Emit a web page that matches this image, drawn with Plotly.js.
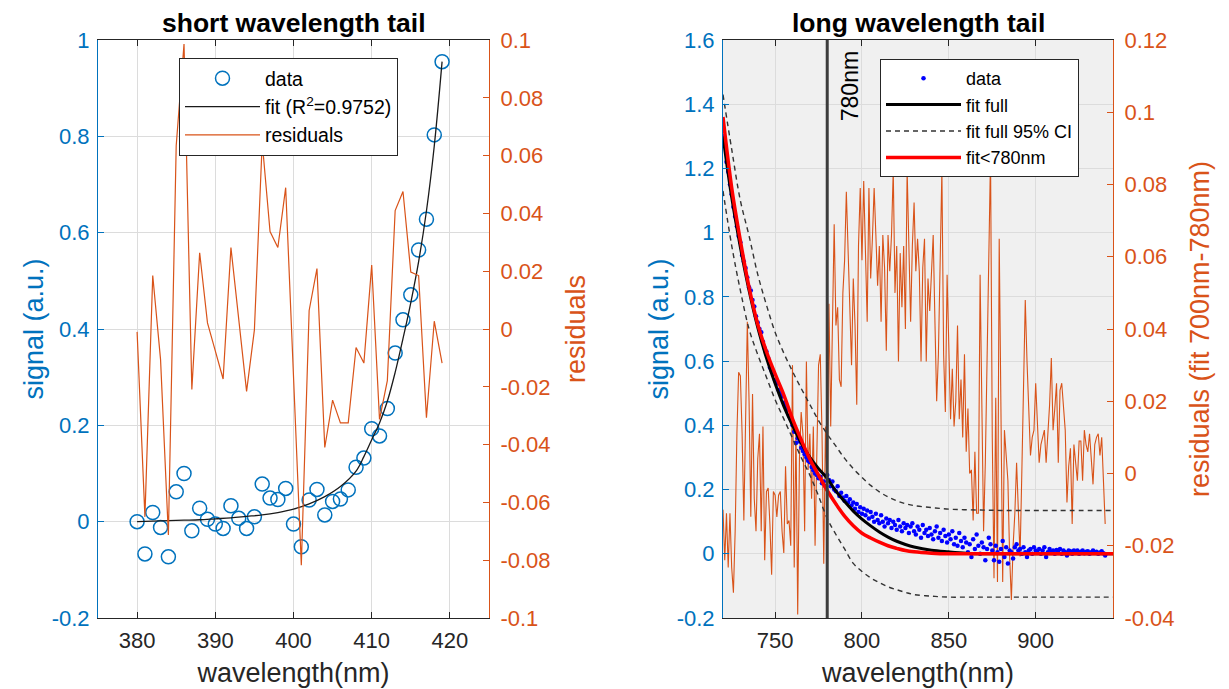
<!DOCTYPE html>
<html>
<head>
<meta charset="utf-8">
<script src="https://cdn.plot.ly/plotly-3.0.1.min.js"></script>
<style>html,body{margin:0;padding:0;background:#fff;}#chart{width:1229px;height:689px;}</style>
</head>
<body>
<div id="chart"></div>
<script>
// ---------- short wavelength tail ----------
const shortStart = 380;
const shortSignal = [0.000,-0.067,0.019,-0.012,-0.073,0.062,0.100,-0.019,0.028,0.005,
  -0.005,-0.014,0.033,0.007,-0.014,0.010,0.078,0.049,0.046,0.069,
  -0.005,-0.052,0.045,0.067,0.014,0.042,0.047,0.066,0.113,0.132,
  0.193,0.178,0.235,0.350,0.419,0.471,0.564,0.628,0.803,0.955];
const shortResid = [-0.001,-0.065,0.0185,-0.0106,-0.0713,0.0634,0.0986,-0.0209,0.0264,0.0021,
  -0.0076,-0.0173,0.0282,0.0033,-0.0216,-0.0003,0.0646,0.0337,0.0282,0.0489,
  -0.015,-0.0817,0.0064,0.0209,-0.041,-0.0246,-0.0325,-0.0325,-0.0064,-0.0118,
  0.0221,-0.0313,-0.0179,0.041,0.0476,0.0197,0.0185,-0.0307,0.0027,-0.0118];
const shortFitX = [380,382,384,386,388,390,392,394,396,398,400,402,404,406,408,409,410,411,412,413,414,415,416,417,418,419];
const shortFitY = [0.000,0.001,0.002,0.003,0.004,0.006,0.008,0.011,0.014,0.019,0.026,0.037,0.052,0.073,0.105,0.135,0.170,0.205,0.250,0.310,0.380,0.455,0.540,0.645,0.780,0.955];

// ---------- long wavelength tail ----------
const longStart = 720;
const longSignal = [1.30,1.27,1.22,1.19,1.15,1.12,1.08,1.05,1.02,0.99,
  0.97,0.93,0.91,0.89,0.86,0.83,0.82,0.79,0.77,0.74,
  0.72,0.70,0.69,0.66,0.64,0.63,0.61,0.58,0.57,0.56,
  0.54,0.53,0.51,0.50,0.49,0.47,0.46,0.45,0.43,0.42,
  0.40,0.38,0.345,0.36,0.35,0.33,0.32,0.31,0.30,0.29,
  0.285,0.27,0.26,0.25,0.245,0.235,0.24,0.22,0.225,0.21,
  0.245,0.23,0.21,0.225,0.20,0.195,0.21,0.18,0.19,0.175,
  0.165,0.18,0.16,0.17,0.15,0.16,0.14,0.155,0.13,0.145,
  0.125,0.14,0.12,0.135,0.11,0.13,0.115,0.10,0.125,0.105,
  0.095,0.12,0.10,0.085,0.11,0.095,0.105,0.08,0.10,0.09,
  0.075,0.105,0.085,0.07,0.095,0.08,0.09,0.065,0.085,0.095,
  0.07,0.06,0.085,0.075,0.05,0.09,0.065,0.075,0.055,0.08,
  0.06,0.045,0.07,0.085,0.05,0.065,0.04,0.075,0.055,0.035,
  0.06,0.045,0.07,0.03,0.05,0.025,0.065,0.04,0.02,0.05,
  0.035,0.005,0.03,-0.01,0.045,0.015,0.06,0.025,0.0,0.035,
  0.02,-0.02,0.015,0.05,0.03,0.01,-0.02,0.025,0.005,-0.025,
  0.015,0.04,-0.01,0.02,-0.03,0.01,0.005,-0.015,0.02,0.03,
  0.01,0.015,0.0,0.02,0.005,-0.01,0.01,0.015,0.0,0.02,
  0.01,0.005,0.015,0.0,0.01,0.02,-0.01,0.005,0.015,0.005,
  0.01,0.0,0.012,0.005,0.015,0.0,0.01,0.005,-0.005,0.01,
  0.008,0.0,0.01,0.004,0.01,0.0,0.006,0.01,0.002,0.006,
  0.008,0.0,0.005,0.01,0.003,0.006,0.0,0.004,0.008,0.002,
  -0.005];
const longResid = [-0.010,-0.024,-0.011,-0.026,-0.011,-0.026,-0.033,-0.016,0.011,0.028,
  0.027,0.011,-0.013,0.011,0.042,0.020,-0.012,0.022,-0.007,-0.016,
  0.004,0.011,-0.016,0.013,-0.024,-0.005,-0.004,-0.014,-0.028,-0.005,
  -0.006,-0.012,-0.006,-0.005,-0.016,-0.022,0.002,-0.014,-0.013,-0.020,
  0.030,-0.026,0.013,-0.039,0.004,0.017,0.011,-0.016,0.031,0.001,
  0.011,-0.007,0.013,-0.020,0.006,0.030,0.033,0.011,-0.025,0.013,
  -0.007,0.047,0.013,0.046,0.069,0.041,0.046,0.026,0.024,0.050,
  0.059,0.078,0.063,0.042,0.030,0.054,0.041,0.019,0.063,0.079,
  0.059,0.081,0.061,0.042,0.079,0.054,0.065,0.079,0.066,0.052,
  0.063,0.042,0.066,0.057,0.034,0.066,0.056,0.066,0.084,0.050,
  0.063,0.031,0.061,0.046,0.063,0.040,0.084,0.059,0.042,0.063,
  0.075,0.056,0.065,0.056,0.031,0.057,0.065,0.031,0.054,0.045,
  0.055,0.066,0.042,0.020,0.033,0.056,0.084,0.033,0.017,0.055,
  0.030,0.015,0.029,0.013,0.020,0.041,0.015,0.026,0.010,0.033,
  0.006,0.018,0.000,0.001,-0.013,0.006,-0.011,-0.011,0.055,0.020,
  -0.016,0.003,0.035,0.060,0.088,0.010,-0.029,0.021,-0.030,0.065,
  0.010,-0.030,0.012,0.005,-0.002,-0.023,-0.035,-0.020,-0.011,0.003,
  -0.010,-0.023,0.000,0.021,0.048,0.031,0.015,0.005,0.010,0.012,
  0.025,0.015,0.003,0.008,0.010,0.012,0.003,0.010,0.019,0.032,
  0.012,0.018,0.025,0.003,0.023,0.025,0.018,0.012,-0.008,0.002,
  0.007,-0.014,0.008,0.003,-0.002,0.009,0.009,-0.002,0.012,0.008,
  0.006,0.011,0.004,-0.003,0.008,0.010,0.011,0.005,0.010,-0.005,
  -0.014];
const fitX = [720,725,730,735,740,745,750,755,760,765,770,775,780,785,790,795,800,805,810,815,820,825,830,840,850,860,870,880,900,920,945];
const fitFull = [1.30,1.11,0.955,0.82,0.705,0.61,0.53,0.46,0.40,0.345,0.30,0.265,0.235,0.195,0.163,0.133,0.108,0.087,0.068,0.052,0.039,0.029,0.021,0.011,0.006,0.002,0.0,0.0,0.0,0.0,0.0];
const fitUpper = [1.43,1.26,1.10,0.99,0.87,0.775,0.69,0.625,0.568,0.515,0.465,0.415,0.373,0.335,0.297,0.265,0.238,0.213,0.193,0.177,0.165,0.156,0.150,0.144,0.139,0.137,0.136,0.135,0.135,0.135,0.135];
const fitLower = [1.13,0.96,0.82,0.70,0.62,0.55,0.48,0.42,0.36,0.30,0.245,0.18,0.11,0.06,0.015,-0.03,-0.055,-0.075,-0.09,-0.103,-0.112,-0.12,-0.127,-0.132,-0.135,-0.135,-0.135,-0.135,-0.135,-0.135,-0.135];
const fitShort = [1.36,1.14,0.975,0.83,0.715,0.63,0.56,0.495,0.42,0.355,0.295,0.245,0.197,0.155,0.117,0.087,0.064,0.049,0.036,0.025,0.017,0.010,0.006,0.002,0.0,0.0,0.0,0.0,0.0,0.0,0.0];
const cutoff = 780;

// tick labels
const sxTicks = [380,390,400,410,420];
const sy1Ticks = [-0.2,0,0.2,0.4,0.6,0.8,1];
const sy1Text = ['-0.2','0','0.2','0.4','0.6','0.8','1'];
const sy2Ticks = [-0.1,-0.08,-0.06,-0.04,-0.02,0,0.02,0.04,0.06,0.08,0.1];
const sy2Text = ['-0.1','-0.08','-0.06','-0.04','-0.02','0','0.02','0.04','0.06','0.08','0.1'];
const lxTicks = [750,800,850,900];
const ly1Ticks = [-0.2,0,0.2,0.4,0.6,0.8,1,1.2,1.4,1.6];
const ly1Text = ['-0.2','0','0.2','0.4','0.6','0.8','1','1.2','1.4','1.6'];
const ly2Ticks = [-0.04,-0.02,0,0.02,0.04,0.06,0.08,0.1,0.12];
const ly2Text = ['-0.04','-0.02','0','0.02','0.04','0.06','0.08','0.1','0.12'];

const shortX = shortSignal.map((_, i) => shortStart + i);
const longX = longSignal.map((_, i) => longStart + i);

const BLUE = '#0072BD', ORANGE = '#D95319', DARK = '#262626', GRID = '#dcdcdc';
const FONT = 'Liberation Sans, Arial, Helvetica, sans-serif';

const traces = [
  {x: shortX, y: shortSignal, type: 'scatter', mode: 'markers', name: 'data',
   marker: {symbol: 'circle-open', size: 14, color: BLUE, line: {width: 1.5, color: BLUE}},
   xaxis: 'x', yaxis: 'y', legend: 'legend'},
  {x: shortFitX, y: shortFitY, type: 'scatter', mode: 'lines', name: 'fit (R<sup>2</sup>=0.9752)',
   line: {color: '#1a1a1a', width: 1.3, shape: 'spline'}, xaxis: 'x', yaxis: 'y', legend: 'legend'},
  {x: shortX, y: shortResid, type: 'scatter', mode: 'lines', name: 'residuals',
   line: {color: ORANGE, width: 1.2}, xaxis: 'x', yaxis: 'y2', legend: 'legend'},

  {x: longX, y: longResid, type: 'scatter', mode: 'lines', name: 'residuals',
   line: {color: ORANGE, width: 1.1}, xaxis: 'x2', yaxis: 'y3', showlegend: false},
  {x: longX, y: longSignal, type: 'scatter', mode: 'markers', name: 'data',
   marker: {size: 4.5, color: '#0000FF'}, xaxis: 'x2', yaxis: 'y4', legend: 'legend2'},
  {x: fitX, y: fitFull, type: 'scatter', mode: 'lines', name: 'fit full',
   line: {color: '#000000', width: 3, shape: 'spline'}, xaxis: 'x2', yaxis: 'y4', legend: 'legend2'},
  {x: fitX, y: fitUpper, type: 'scatter', mode: 'lines', name: 'fit full 95% CI',
   line: {color: '#333333', width: 1.4, dash: '5px,4px', shape: 'spline'}, xaxis: 'x2', yaxis: 'y4', legend: 'legend2'},
  {x: fitX, y: fitLower, type: 'scatter', mode: 'lines', name: 'fit full 95% CI lower',
   line: {color: '#333333', width: 1.4, dash: '5px,4px', shape: 'spline'}, xaxis: 'x2', yaxis: 'y4', showlegend: false},
  {x: fitX, y: fitShort, type: 'scatter', mode: 'lines', name: 'fit&lt;780nm',
   line: {color: '#FF0000', width: 3.5, shape: 'spline'}, xaxis: 'x2', yaxis: 'y4', legend: 'legend2'}
];

const W = 1229, H = 689;
const yDom = [(H - 618) / H, (H - 40) / H];
const TICK = 22, LABEL = 27;
const axBase = {ticks: 'inside', ticklen: 6, showline: true, zeroline: false, linewidth: 1};

const layout = {
  width: W, height: H, margin: {l: 0, r: 0, t: 0, b: 0},
  paper_bgcolor: '#ffffff', plot_bgcolor: '#ffffff',
  font: {family: FONT, color: DARK},
  xaxis: Object.assign({}, axBase, {domain: [98 / W, 489 / W], range: [375, 425], anchor: 'y',
    tickvals: sxTicks, linecolor: DARK, tickcolor: DARK, mirror: 'ticks', showgrid: true, gridcolor: GRID,
    tickfont: {size: TICK, color: DARK, family: FONT}, ticklabelstandoff: 3,
    title: {text: 'wavelength(nm)', font: {size: LABEL, color: DARK}, standoff: 10}}),
  yaxis: Object.assign({}, axBase, {domain: yDom, range: [-0.2, 1], anchor: 'x',
    tickvals: sy1Ticks, ticktext: sy1Text, linecolor: BLUE, tickcolor: BLUE, showgrid: true, gridcolor: GRID,
    tickfont: {size: TICK, color: BLUE, family: FONT}, ticklabelstandoff: 3,
    title: {text: 'signal (a.u.)', font: {size: LABEL, color: BLUE}, standoff: 0}}),
  yaxis2: Object.assign({}, axBase, {overlaying: 'y', side: 'right', range: [-0.1, 0.1], anchor: 'x',
    tickvals: sy2Ticks, ticktext: sy2Text, linecolor: ORANGE, tickcolor: ORANGE, showgrid: false,
    tickfont: {size: TICK, color: ORANGE, family: FONT}, ticklabelstandoff: 6,
    title: {text: 'residuals', font: {size: LABEL, color: ORANGE}, standoff: 16}}),
  xaxis2: Object.assign({}, axBase, {domain: [723 / W, 1113 / W], range: [720, 944.5], anchor: 'y3',
    tickvals: lxTicks, linecolor: DARK, tickcolor: DARK, mirror: 'ticks', showgrid: true, gridcolor: GRID,
    tickfont: {size: TICK, color: DARK, family: FONT}, ticklabelstandoff: 3,
    title: {text: 'wavelength(nm)', font: {size: LABEL, color: DARK}, standoff: 10}}),
  yaxis3: Object.assign({}, axBase, {domain: yDom, side: 'right', range: [-0.04, 0.12], anchor: 'x2',
    tickvals: ly2Ticks, ticktext: ly2Text, linecolor: ORANGE, tickcolor: ORANGE, showgrid: false,
    tickfont: {size: TICK, color: ORANGE, family: FONT}, ticklabelstandoff: 6,
    title: {text: 'residuals (fit 700nm-780nm)', font: {size: LABEL, color: ORANGE}, standoff: 16}}),
  yaxis4: Object.assign({}, axBase, {overlaying: 'y3', side: 'left', range: [-0.2, 1.6], anchor: 'x2',
    tickvals: ly1Ticks, ticktext: ly1Text, linecolor: BLUE, tickcolor: BLUE, showgrid: true, gridcolor: GRID,
    tickfont: {size: TICK, color: BLUE, family: FONT}, ticklabelstandoff: 3,
    title: {text: 'signal (a.u.)', font: {size: LABEL, color: BLUE}, standoff: 0}}),
  legend: {x: 179 / W, y: (H - 58) / H, xanchor: 'left', yanchor: 'top', bgcolor: '#ffffff',
    bordercolor: DARK, borderwidth: 1, font: {size: 19.5, family: FONT, color: '#000'}, itemwidth: 75, tracegroupgap: 0},
  legend2: {x: 880 / W, y: (H - 59) / H, xanchor: 'left', yanchor: 'top', bgcolor: '#ffffff',
    bordercolor: DARK, borderwidth: 1, font: {size: 18, family: FONT, color: '#000'}, itemwidth: 75, tracegroupgap: 0},
  shapes: [
    {type: 'rect', xref: 'x2 domain', yref: 'y3 domain', x0: 0, x1: 1, y0: 0, y1: 1,
     fillcolor: '#f0f0f0', line: {width: 0}, layer: 'below'},
    {type: 'line', xref: 'x2', yref: 'y3 domain', x0: cutoff, x1: cutoff, y0: 0, y1: 1,
     line: {color: '#3c3c3c', width: 3}, layer: 'above'}
  ],
  annotations: [
    {text: 'short wavelength tail', xref: 'paper', yref: 'paper', x: 293.5 / W, y: (H - 23) / H,
     xanchor: 'center', yanchor: 'middle', showarrow: false, font: {size: 26.5, color: '#000', weight: 'bold', family: FONT}},
    {text: 'long wavelength tail', xref: 'paper', yref: 'paper', x: 918 / W, y: (H - 23) / H,
     xanchor: 'center', yanchor: 'middle', showarrow: false, font: {size: 26.5, color: '#000', weight: 'bold', family: FONT}},
    {text: cutoff + 'nm', xref: 'x2', yref: 'paper', x: cutoff, y: (H - 86) / H, xshift: 23,
     xanchor: 'center', yanchor: 'middle', textangle: -90, showarrow: false, font: {size: 23, color: '#000', family: FONT}}
  ]
};

Plotly.newPlot('chart', traces, layout, {staticPlot: true, displayModeBar: false});
</script>
</body>
</html>
